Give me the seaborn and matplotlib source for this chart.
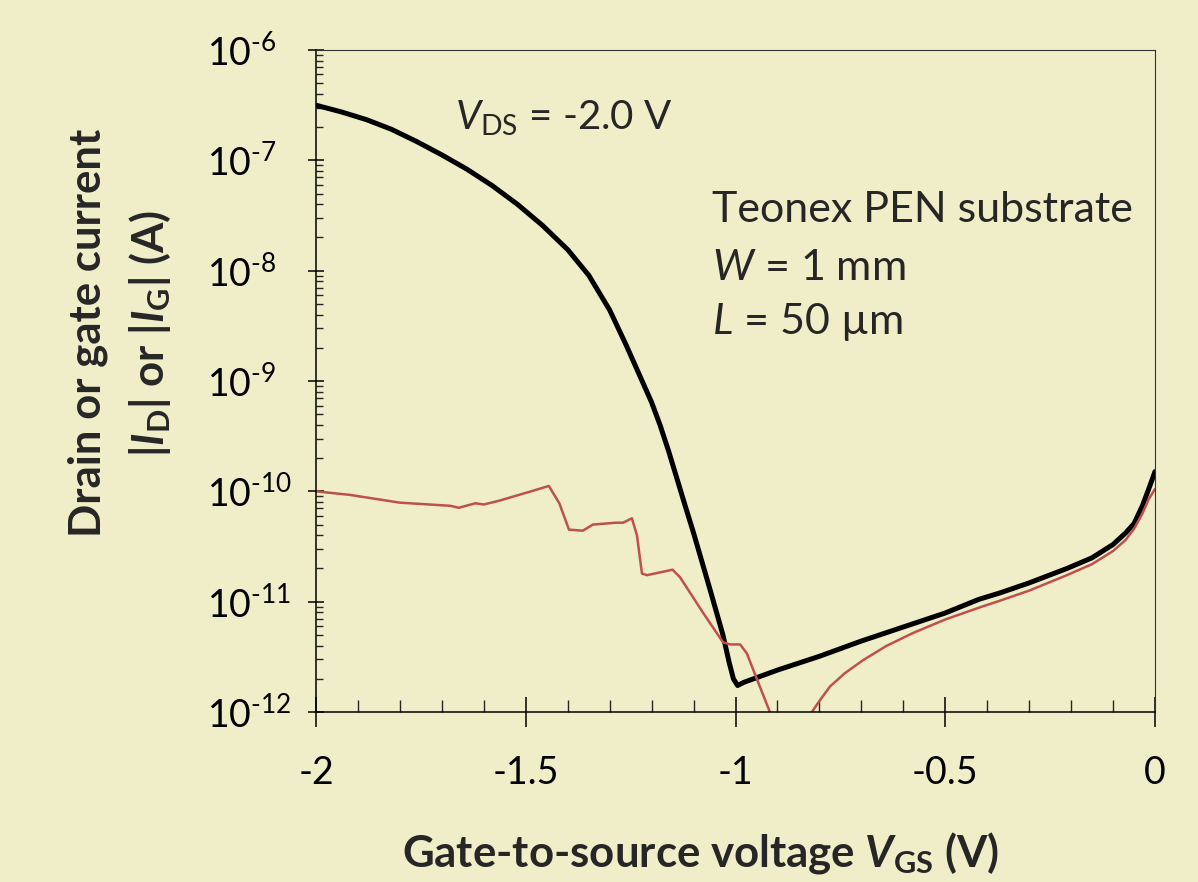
import matplotlib
matplotlib.use("Agg")
import matplotlib.pyplot as plt
import seaborn as sns
from matplotlib.ticker import FixedLocator, LogLocator, MultipleLocator, NullFormatter

# drain current |ID| vs gate voltage
vgs_drain = [-2.0, -1.94, -1.88, -1.82, -1.76, -1.70, -1.64, -1.58, -1.52,
             -1.46, -1.40, -1.35, -1.30, -1.26, -1.22, -1.20, -1.18, -1.16,
             -1.14, -1.12, -1.10, -1.06, -1.03, -1.015, -1.005, -0.995, -0.98,
             -0.9, -0.8, -0.7, -0.6, -0.5, -0.42, -0.37, -0.3, -0.21, -0.15,
             -0.10, -0.07, -0.05, -0.03, -0.015, 0.0]
id_abs = [3.16e-7, 2.75e-7, 2.34e-7, 1.91e-7, 1.48e-7, 1.12e-7, 8.3e-8,
          5.9e-8, 4.0e-8, 2.57e-8, 1.55e-8, 9.1e-9, 4.4e-9, 2.09e-9, 9.5e-10,
          6.4e-10, 4.0e-10, 2.35e-10, 1.32e-10, 7.4e-11, 4.2e-11, 1.26e-11,
          5.0e-12, 2.8e-12, 2.0e-12, 1.74e-12, 1.86e-12, 2.4e-12, 3.2e-12,
          4.4e-12, 5.9e-12, 7.9e-12, 1.05e-11, 1.2e-11, 1.48e-11, 2.0e-11,
          2.5e-11, 3.3e-11, 4.2e-11, 5.1e-11, 7.4e-11, 1.05e-10, 1.51e-10]

# gate leakage |IG|
vgs_gate = [-2.0, -1.92, -1.80, -1.68, -1.66, -1.62, -1.60, -1.56, -1.48,
            -1.445, -1.42, -1.397, -1.364, -1.34, -1.285, -1.268, -1.247,
            -1.235, -1.223, -1.211, -1.15, -1.132, -1.077, -1.03, -1.013,
            -0.989, -0.973, -0.942, -0.918, -0.9, -0.83, -0.818, -0.8,
            -0.775, -0.74, -0.696, -0.64, -0.577, -0.5, -0.417, -0.37, -0.3,
            -0.21, -0.15, -0.10, -0.07, -0.05, -0.03, -0.015, 0.0]
ig_abs = [1.0e-10, 9.3e-11, 7.9e-11, 7.4e-11, 7.1e-11, 7.8e-11, 7.6e-11,
          8.3e-11, 1.02e-10, 1.12e-10, 7.8e-11, 4.5e-11, 4.4e-11, 5.0e-11,
          5.2e-11, 5.2e-11, 5.7e-11, 4.0e-11, 1.8e-11, 1.74e-11, 1.95e-11,
          1.66e-11, 7.9e-12, 4.3e-12, 4.1e-12, 4.1e-12, 3.4e-12, 1.7e-12,
          1.0e-12, 6e-13, 6e-13, 1.0e-12, 1.26e-12, 1.7e-12, 2.24e-12,
          2.95e-12, 3.98e-12, 5.2e-12, 6.9e-12, 8.9e-12, 1.02e-11, 1.26e-11,
          1.74e-11, 2.19e-11, 2.88e-11, 3.63e-11, 4.57e-11, 6.3e-11, 8.5e-11,
          1.05e-10]

x_ticks = [-2, -1.5, -1, -0.5, 0]
x_tick_labels = ["-2", "-1.5", "-1", "-0.5", "0"]
y_ticks = [1e-12, 1e-11, 1e-10, 1e-9, 1e-8, 1e-7, 1e-6]
y_tick_labels = [r"$10^{\text{-}%d}$" % p for p in (12, 11, 10, 9, 8, 7, 6)]

BG = "#efeec8"
RED = "#c0504d"
FONT = "Lato"

sns.set_style("ticks")
plt.rcParams["font.family"] = [FONT, "DejaVu Sans"]
plt.rcParams["mathtext.fontset"] = "custom"
plt.rcParams["mathtext.rm"] = FONT
plt.rcParams["mathtext.it"] = FONT + ":italic"
plt.rcParams["mathtext.bf"] = FONT + ":bold"
plt.rcParams["mathtext.bfit"] = FONT + ":bold:italic"
plt.rcParams["axes.unicode_minus"] = False

fig = plt.figure(figsize=(11.98, 8.82), dpi=100, facecolor=BG)
ax = fig.add_axes([0.2638, 0.1927, 0.7003, 0.7506])
ax.set_facecolor(BG)

sns.lineplot(x=vgs_drain, y=id_abs, ax=ax, color="black", linewidth=3.6)
sns.lineplot(x=vgs_gate, y=ig_abs, ax=ax, color=RED, linewidth=1.8)

ax.set_yscale("log")
ax.set_xlim(-2, 0)
ax.set_ylim(1e-12, 1e-6)

ax.xaxis.set_major_locator(FixedLocator(x_ticks))
ax.set_xticklabels(x_tick_labels)
ax.xaxis.set_minor_locator(MultipleLocator(0.1))
ax.yaxis.set_major_locator(FixedLocator(y_ticks))
ax.set_yticklabels(y_tick_labels)
ax.yaxis.set_minor_locator(LogLocator(base=10, subs=range(2, 10), numticks=20))
ax.yaxis.set_minor_formatter(NullFormatter())

ax.tick_params(axis="both", colors="black", labelsize=27)
ax.tick_params(axis="y", which="major", direction="inout", length=12, width=1.1, pad=72.5)
ax.tick_params(axis="y", which="minor", direction="in", length=5, width=1.0)
ax.tick_params(axis="x", which="major", direction="inout", length=22, width=1.1, pad=20)
ax.tick_params(axis="x", which="minor", direction="in", length=8.5, width=1.0)
for lab in ax.get_yticklabels():
    lab.set_horizontalalignment("left")

for side in ("left", "bottom"):
    ax.spines[side].set_linewidth(1.1)
    ax.spines[side].set_color("black")
for side in ("top", "right"):
    ax.spines[side].set_visible(True)
    ax.spines[side].set_linewidth(0.8)
    ax.spines[side].set_color("#333333")

ax.set_xlabel("")
ax.set_ylabel("")

# annotations
ax.text(0.166, 0.897, r"$\mathit{V}_{\mathrm{DS}}$ = -2.0 V", transform=ax.transAxes,
        fontsize=29, va="center", ha="left")
ax.text(0.472, 0.758, "Teonex PEN substrate", transform=ax.transAxes,
        fontsize=31, va="center", ha="left")
ax.text(0.472, 0.671, r"$\mathit{W}$ = 1 mm", transform=ax.transAxes,
        fontsize=31, va="center", ha="left")
ax.text(0.472, 0.589, r"$\mathit{L}$ = 50 µm", transform=ax.transAxes,
        fontsize=31, va="center", ha="left")

# axis labels
fig.text(0.585, 0.033, r"Gate-to-source voltage $\mathbfit{V}_{\mathbf{GS}}$ (V)",
         fontsize=31.5, fontweight="bold", ha="center", va="center")
fig.text(0.0735, 0.6224, "Drain or gate current", rotation=90,
         fontsize=31.5, fontweight="bold", ha="center", va="center")
fig.text(0.125, 0.6224, r"|$\mathbfit{I}_{\mathbf{D}}$| or |$\mathbfit{I}_{\mathbf{G}}$| (A)",
         rotation=90, fontsize=31.5, fontweight="bold", ha="center", va="center")

fig.savefig("out.png", dpi=100, facecolor=BG)
